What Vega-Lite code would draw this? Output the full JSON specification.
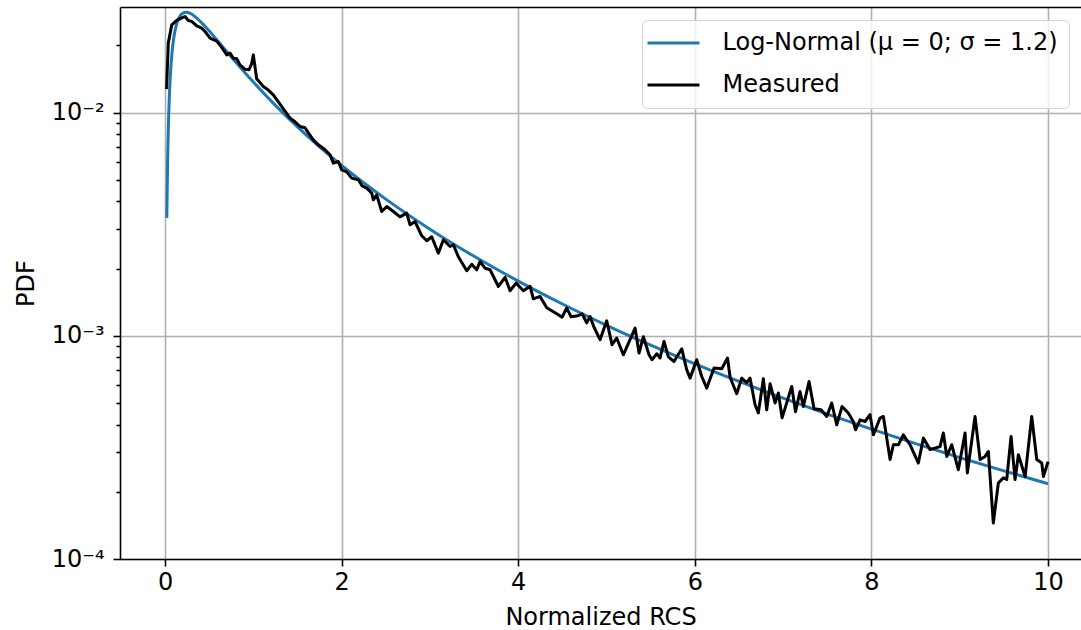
{
  "$schema": "https://vega.github.io/schema/vega-lite/v6.json",
  "width": 961,
  "height": 552,
  "autosize": {"type": "none"},
  "padding": {"left": 120, "top": 7, "right": 0, "bottom": 71},
  "background": "white",
  "config": {
    "view": {"stroke": null},
    "font": "DejaVu Sans",
    "axis": {
      "labelFont": "DejaVu Sans", "labelFontSize": 24, "labelColor": "#000000",
      "titleFont": "DejaVu Sans", "titleFontSize": 24, "titleFontWeight": "normal", "titleColor": "#000000",
      "domainColor": "#000000", "domainWidth": 1.6,
      "tickColor": "#000000", "tickWidth": 1.6, "tickSize": 7,
      "gridColor": "#b0b0b0", "gridWidth": 1.6
    },
    "legend": {
      "labelFont": "DejaVu Sans", "labelFontSize": 24, "labelColor": "#000000"
    }
  },
  "datasets": {
    "lognormal": [
      {"x": 0.02, "pdf": 0.003374}, {"x": 0.03, "pdf": 0.006387}, {"x": 0.04, "pdf": 0.009379},
      {"x": 0.05, "pdf": 0.012144}, {"x": 0.06, "pdf": 0.014617}, {"x": 0.08, "pdf": 0.01869},
      {"x": 0.1, "pdf": 0.021732}, {"x": 0.13, "pdf": 0.024832}, {"x": 0.16, "pdf": 0.026673},
      {"x": 0.2, "pdf": 0.02786}, {"x": 0.24, "pdf": 0.02814}, {"x": 0.28, "pdf": 0.027868},
      {"x": 0.35, "pdf": 0.02669}, {"x": 0.45, "pdf": 0.024393}, {"x": 0.6, "pdf": 0.020851},
      {"x": 0.7, "pdf": 0.018722}, {"x": 0.8, "pdf": 0.016828}, {"x": 0.9, "pdf": 0.01516},
      {"x": 1.0, "pdf": 0.013697}, {"x": 1.25, "pdf": 0.01077}, {"x": 1.5, "pdf": 0.0086246},
      {"x": 1.75, "pdf": 0.0070205}, {"x": 2.0, "pdf": 0.0057963}, {"x": 2.25, "pdf": 0.004845},
      {"x": 2.5, "pdf": 0.0040935}, {"x": 3.0, "pdf": 0.0030028}, {"x": 3.5, "pdf": 0.0022693},
      {"x": 4.0, "pdf": 0.001757}, {"x": 4.5, "pdf": 0.0013876}, {"x": 5.0, "pdf": 0.0011144},
      {"x": 5.5, "pdf": 0.00090788}, {"x": 6.0, "pdf": 0.00074877}, {"x": 6.5, "pdf": 0.00062426},
      {"x": 7.0, "pdf": 0.00052541}, {"x": 7.5, "pdf": 0.000446}, {"x": 8.0, "pdf": 0.00038147},
      {"x": 8.5, "pdf": 0.00032853}, {"x": 9.0, "pdf": 0.0002847}, {"x": 9.5, "pdf": 0.0002481},
      {"x": 10.0, "pdf": 0.00021731}
    ],
    "measured": [
      {"x": 0.017, "pdf": 0.01273}, {"x": 0.037, "pdf": 0.02046}, {"x": 0.076, "pdf": 0.0247},
      {"x": 0.133, "pdf": 0.02588}, {"x": 0.189, "pdf": 0.02656}, {"x": 0.226, "pdf": 0.02692},
      {"x": 0.264, "pdf": 0.02582}, {"x": 0.302, "pdf": 0.02561}, {"x": 0.359, "pdf": 0.02445},
      {"x": 0.416, "pdf": 0.02388}, {"x": 0.453, "pdf": 0.02306}, {"x": 0.51, "pdf": 0.02154},
      {"x": 0.585, "pdf": 0.0209}, {"x": 0.642, "pdf": 0.01959}, {"x": 0.699, "pdf": 0.01813},
      {"x": 0.736, "pdf": 0.01845}, {"x": 0.773, "pdf": 0.01752}, {"x": 0.812, "pdf": 0.0174},
      {"x": 0.849, "pdf": 0.01635}, {"x": 0.906, "pdf": 0.01561}, {"x": 0.951, "pdf": 0.01555},
      {"x": 0.98, "pdf": 0.01652}, {"x": 1.0, "pdf": 0.01813}, {"x": 1.038, "pdf": 0.01416},
      {"x": 1.113, "pdf": 0.01307}, {"x": 1.166, "pdf": 0.01264}, {"x": 1.226, "pdf": 0.012},
      {"x": 1.322, "pdf": 0.01064}, {"x": 1.416, "pdf": 0.009438}, {"x": 1.472, "pdf": 0.009087},
      {"x": 1.529, "pdf": 0.008656}, {"x": 1.585, "pdf": 0.008541}, {"x": 1.631, "pdf": 0.008028},
      {"x": 1.679, "pdf": 0.007545}, {"x": 1.736, "pdf": 0.007167}, {"x": 1.812, "pdf": 0.006808},
      {"x": 1.869, "pdf": 0.006466}, {"x": 1.906, "pdf": 0.005935}, {"x": 1.963, "pdf": 0.006034},
      {"x": 2.001, "pdf": 0.005538}, {"x": 2.058, "pdf": 0.005425}, {"x": 2.114, "pdf": 0.005083},
      {"x": 2.189, "pdf": 0.004995}, {"x": 2.231, "pdf": 0.004695}, {"x": 2.284, "pdf": 0.004585},
      {"x": 2.341, "pdf": 0.004355}, {"x": 2.359, "pdf": 0.004064}, {"x": 2.397, "pdf": 0.004279},
      {"x": 2.454, "pdf": 0.003602}, {"x": 2.511, "pdf": 0.003793}, {"x": 2.586, "pdf": 0.003602},
      {"x": 2.661, "pdf": 0.00341}, {"x": 2.737, "pdf": 0.003543}, {"x": 2.775, "pdf": 0.003141},
      {"x": 2.831, "pdf": 0.00325}, {"x": 2.907, "pdf": 0.002805}, {"x": 2.964, "pdf": 0.002664},
      {"x": 3.02, "pdf": 0.002776}, {"x": 3.095, "pdf": 0.002346}, {"x": 3.152, "pdf": 0.002691},
      {"x": 3.228, "pdf": 0.002511}, {"x": 3.265, "pdf": 0.002556}, {"x": 3.322, "pdf": 0.002258},
      {"x": 3.417, "pdf": 0.001955}, {"x": 3.473, "pdf": 0.00209}, {"x": 3.53, "pdf": 0.001975},
      {"x": 3.567, "pdf": 0.002151}, {"x": 3.624, "pdf": 0.00201}, {"x": 3.681, "pdf": 0.001975},
      {"x": 3.775, "pdf": 0.001663}, {"x": 3.851, "pdf": 0.001828}, {"x": 3.907, "pdf": 0.001591},
      {"x": 3.975, "pdf": 0.001722}, {"x": 4.058, "pdf": 0.00159}, {"x": 4.134, "pdf": 0.001666},
      {"x": 4.171, "pdf": 0.001464}, {"x": 4.247, "pdf": 0.0015}, {"x": 4.323, "pdf": 0.001335},
      {"x": 4.436, "pdf": 0.001255}, {"x": 4.496, "pdf": 0.00121}, {"x": 4.549, "pdf": 0.001331},
      {"x": 4.598, "pdf": 0.001217}, {"x": 4.677, "pdf": 0.001229}, {"x": 4.723, "pdf": 0.001255},
      {"x": 4.776, "pdf": 0.001143}, {"x": 4.813, "pdf": 0.00122}, {"x": 4.858, "pdf": 0.001092},
      {"x": 4.926, "pdf": 0.00096}, {"x": 5.002, "pdf": 0.001167}, {"x": 5.062, "pdf": 0.000912},
      {"x": 5.115, "pdf": 0.000977}, {"x": 5.19, "pdf": 0.000822}, {"x": 5.266, "pdf": 0.00096},
      {"x": 5.323, "pdf": 0.001083}, {"x": 5.368, "pdf": 0.000837}, {"x": 5.417, "pdf": 0.00099},
      {"x": 5.481, "pdf": 0.000822}, {"x": 5.515, "pdf": 0.000781}, {"x": 5.569, "pdf": 0.000831},
      {"x": 5.606, "pdf": 0.000795}, {"x": 5.651, "pdf": 0.000943}, {"x": 5.7, "pdf": 0.000805},
      {"x": 5.764, "pdf": 0.000767}, {"x": 5.852, "pdf": 0.000874}, {"x": 5.908, "pdf": 0.000704},
      {"x": 5.946, "pdf": 0.000646}, {"x": 6.021, "pdf": 0.000781}, {"x": 6.078, "pdf": 0.000657},
      {"x": 6.135, "pdf": 0.000583}, {"x": 6.217, "pdf": 0.000717}, {"x": 6.305, "pdf": 0.000712},
      {"x": 6.37, "pdf": 0.000795}, {"x": 6.399, "pdf": 0.000652}, {"x": 6.474, "pdf": 0.00055},
      {"x": 6.531, "pdf": 0.000646}, {"x": 6.588, "pdf": 0.000616}, {"x": 6.625, "pdf": 0.000646},
      {"x": 6.682, "pdf": 0.000491}, {"x": 6.719, "pdf": 0.000451}, {"x": 6.776, "pdf": 0.000642},
      {"x": 6.814, "pdf": 0.000466}, {"x": 6.852, "pdf": 0.00061}, {"x": 6.908, "pdf": 0.0005},
      {"x": 6.946, "pdf": 0.000554}, {"x": 6.988, "pdf": 0.000429}, {"x": 7.097, "pdf": 0.000593},
      {"x": 7.14, "pdf": 0.000457}, {"x": 7.191, "pdf": 0.000563}, {"x": 7.229, "pdf": 0.000482},
      {"x": 7.293, "pdf": 0.000624}, {"x": 7.35, "pdf": 0.000471}, {"x": 7.429, "pdf": 0.000466},
      {"x": 7.494, "pdf": 0.000435}, {"x": 7.55, "pdf": 0.0005}, {"x": 7.607, "pdf": 0.000399},
      {"x": 7.667, "pdf": 0.000482}, {"x": 7.738, "pdf": 0.000451}, {"x": 7.795, "pdf": 0.000412},
      {"x": 7.82, "pdf": 0.000379}, {"x": 7.871, "pdf": 0.00042}, {"x": 7.928, "pdf": 0.000413},
      {"x": 7.984, "pdf": 0.000443}, {"x": 8.022, "pdf": 0.00036}, {"x": 8.097, "pdf": 0.000428},
      {"x": 8.135, "pdf": 0.000435}, {"x": 8.211, "pdf": 0.000279}, {"x": 8.248, "pdf": 0.000325},
      {"x": 8.305, "pdf": 0.000325}, {"x": 8.361, "pdf": 0.00036}, {"x": 8.437, "pdf": 0.000325},
      {"x": 8.531, "pdf": 0.000269}, {"x": 8.588, "pdf": 0.000348}, {"x": 8.664, "pdf": 0.000309},
      {"x": 8.72, "pdf": 0.000314}, {"x": 8.777, "pdf": 0.000319}, {"x": 8.814, "pdf": 0.000367},
      {"x": 8.853, "pdf": 0.000288}, {"x": 8.909, "pdf": 0.000325}, {"x": 8.984, "pdf": 0.000251},
      {"x": 9.06, "pdf": 0.000367}, {"x": 9.086, "pdf": 0.000243}, {"x": 9.173, "pdf": 0.000435},
      {"x": 9.23, "pdf": 0.000279}, {"x": 9.287, "pdf": 0.000288}, {"x": 9.324, "pdf": 0.000303},
      {"x": 9.38, "pdf": 0.000145}, {"x": 9.437, "pdf": 0.000219}, {"x": 9.494, "pdf": 0.000231},
      {"x": 9.532, "pdf": 0.000227}, {"x": 9.581, "pdf": 0.000354}, {"x": 9.626, "pdf": 0.000227},
      {"x": 9.664, "pdf": 0.000293}, {"x": 9.74, "pdf": 0.000234}, {"x": 9.815, "pdf": 0.000435},
      {"x": 9.872, "pdf": 0.000279}, {"x": 9.929, "pdf": 0.000269}, {"x": 9.947, "pdf": 0.000234},
      {"x": 10.0, "pdf": 0.000273}
    ]
  },
  "layer": [
    {
      "data": {"name": "lognormal"},
      "mark": {"type": "line", "strokeWidth": 3, "interpolate": "monotone", "strokeJoin": "round"},
      "encoding": {
        "x": {
          "field": "x", "type": "quantitative",
          "scale": {"domain": [-0.51, 10.373], "nice": false, "zero": false},
          "axis": {"orient": "bottom", "values": [0, 2, 4, 6, 8, 10], "grid": true, "title": "Normalized RCS", "labelPadding": 4, "titlePadding": 11, "labelFlush": false, "labelOverlap": false}
        },
        "y": {
          "field": "pdf", "type": "quantitative",
          "scale": {"type": "log", "domain": [0.0001, 0.0297], "nice": false},
          "axis": {
            "values": [0.0001, 0.0002, 0.0003, 0.0004, 0.0005, 0.0006, 0.0007, 0.0008, 0.0009, 0.001, 0.002, 0.003, 0.004, 0.005, 0.006, 0.007, 0.008, 0.009, 0.01, 0.02],
            "grid": true,
            "gridOpacity": {"condition": {"test": "abs(log(datum.value)/LN10 - round(log(datum.value)/LN10)) < 0.01", "value": 1}, "value": 0},
            "tickSize": {"condition": {"test": "abs(log(datum.value)/LN10 - round(log(datum.value)/LN10)) < 0.01", "value": 7}, "value": 4},
            "labelExpr": "abs(log(datum.value)/LN10 - round(log(datum.value)/LN10)) < 0.01 ? (round(log(datum.value)/LN10) == -2 ? '10⁻²' : (round(log(datum.value)/LN10) == -3 ? '10⁻³' : '10⁻⁴')) : ''",
            "labelOverlap": false,
            "labelPadding": 9,
            "title": "PDF",
            "titlePadding": 13
          }
        },
        "color": {
          "datum": "Log-Normal (μ = 0; σ = 1.2)",
          "type": "nominal",
          "scale": {"domain": ["Log-Normal (μ = 0; σ = 1.2)", "Measured"], "range": ["#1f77b4", "#000000"]},
          "legend": {
            "title": null,
            "orient": "none",
            "legendX": 522,
            "legendY": 13,
            "symbolType": "M-2.6,0H2.6",
            "symbolStrokeWidth": 3,
            "symbolSize": 400,
            "symbolOffset": 8.5,
            "labelOffset": 37,
            "labelLimit": 600,
            "padding": 11,
            "rowPadding": 18,
            "strokeColor": "#d5d5d5",
            "fillColor": "rgba(255,255,255,0.8)",
            "cornerRadius": 5
          }
        }
      }
    },
    {
      "data": {"name": "measured"},
      "mark": {"type": "line", "strokeWidth": 3, "strokeJoin": "round"},
      "encoding": {
        "x": {
          "field": "x", "type": "quantitative",
          "axis": {"orient": "top", "labels": false, "ticks": false, "grid": false, "title": null, "domain": true}
        },
        "y": {"field": "pdf", "type": "quantitative", "axis": null},
        "color": {"datum": "Measured", "type": "nominal"}
      }
    }
  ],
  "resolve": {"axis": {"x": "independent", "y": "independent"}}
}
